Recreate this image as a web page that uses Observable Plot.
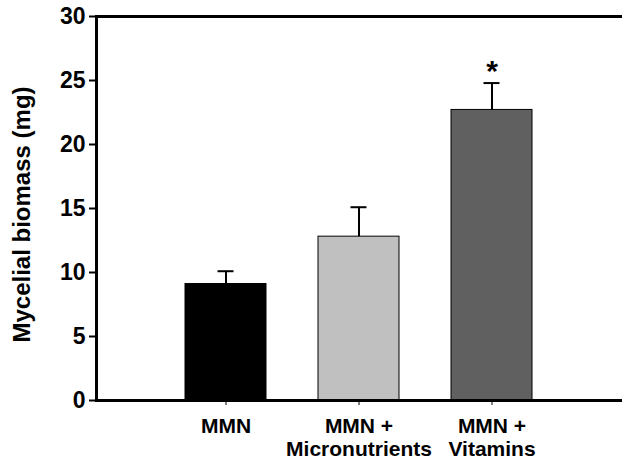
<!DOCTYPE html>
<html>
<head>
<meta charset="utf-8">
<script src="https://cdn.jsdelivr.net/npm/d3@7"></script>
<script src="https://cdn.jsdelivr.net/npm/@observablehq/plot@0.6"></script>
<style>
  html, body { margin: 0; padding: 0; background: white; }
</style>
</head>
<body>
<div id="chart"></div>
<script>
const categories = ["MMN", "MMN +\nMicronutrients", "MMN +\nVitamins"];
const means = [9.1, 12.8, 22.7];
const errors = [1.0, 2.3, 2.1];
const barColors = ["#000000", "#c0c0c0", "#606060"];
const significance = ["", "", "*"];
const yTicks = [0, 5, 10, 15, 20, 25, 30];
const yTitle = "Mycelial biomass (mg)";

const data = categories.map((c, i) => ({
  category: c, mean: means[i], err: errors[i], color: barColors[i], sig: significance[i]
}));

const chart = Plot.plot({
  width: 622,
  height: 464,
  marginLeft: 96,
  marginRight: 0,
  marginTop: 16,
  marginBottom: 64,
  style: {fontFamily: "'Liberation Sans', Arial, sans-serif", fontWeight: "bold", fontSize: "23px", background: "white", color: "black"},
  x: {domain: categories, paddingInner: 0.39, paddingOuter: 0.67, label: null},
  y: {domain: [0, 30], label: null},
  color: {type: "identity"},
  marks: [
    Plot.barY(data, {x: "category", y: "mean", fill: "color", stroke: "black", strokeWidth: 1}),
    Plot.ruleX(data, {x: "category", y1: "mean", y2: d => d.mean + d.err, stroke: "black", strokeWidth: 2}),
    Plot.tickY(data, {x: "category", y: d => d.mean + d.err, stroke: "black", strokeWidth: 2, insetLeft: 32.5, insetRight: 32.5}),
    Plot.text(data, {x: "category", y: d => d.mean + d.err, text: "sig", dy: -12, fontSize: 30, fontWeight: "bold"}),
    Plot.ruleY([0, 30], {stroke: "black", strokeWidth: 3}),
    Plot.frame({anchor: "left", stroke: "black", strokeWidth: 3}),
    Plot.axisY({ticks: yTicks, tickSize: 7, tickPadding: 4, strokeWidth: 2, fontSize: 23, label: null}),
    Plot.axisX({tickSize: 5, tickPadding: 11, fontSize: 21, lineHeight: 1.1, label: null}),
    Plot.text([yTitle], {frameAnchor: "left", textAnchor: "middle", lineAnchor: "middle", rotate: -90, dx: -74, dy: 6, fontSize: 24, fontWeight: "bold"})
  ]
});
document.getElementById("chart").appendChild(chart);
</script>
</body>
</html>
